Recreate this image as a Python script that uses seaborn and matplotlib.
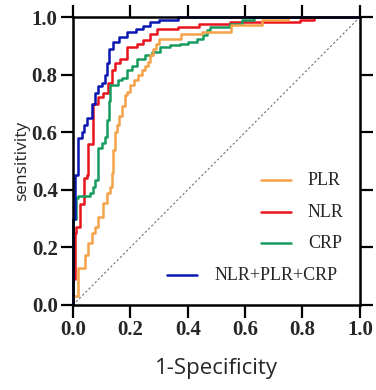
import numpy as np
import pandas as pd
import seaborn as sns
import matplotlib.pyplot as plt
from matplotlib.lines import Line2D

# ROC curve corners (fpr, tpr): top of each vertical run, drawn with steps-post
plr_fpr = [0.0, 0.0, 0.017, 0.042, 0.052, 0.066, 0.077, 0.087, 0.105, 0.118, 0.129, 0.136, 0.14, 0.146,
           0.153, 0.16, 0.17, 0.18, 0.19, 0.20, 0.213, 0.226, 0.24, 0.25, 0.26, 0.27, 0.28, 0.29, 0.30,
           0.375, 0.45, 0.55, 0.66, 0.75, 1.0]
plr_tpr = [0.0, 0.03, 0.128, 0.174, 0.215, 0.25, 0.27, 0.305, 0.354, 0.389, 0.41, 0.458, 0.538, 0.60,
           0.625, 0.655, 0.69, 0.73, 0.74, 0.764, 0.78, 0.80, 0.815, 0.83, 0.845, 0.868, 0.889, 0.906, 0.924,
           0.94, 0.948, 0.972, 0.99, 1.0, 1.0]

nlr_fpr = [0.0, 0.0, 0.007, 0.012, 0.024, 0.04, 0.05, 0.052, 0.07, 0.087, 0.105, 0.122, 0.136, 0.146,
           0.164, 0.188, 0.223, 0.244, 0.268, 0.293, 0.366, 0.44, 0.547, 0.79, 0.84, 1.0]
nlr_tpr = [0.0, 0.09, 0.25, 0.27, 0.35, 0.44, 0.45, 0.56, 0.70, 0.722, 0.736, 0.77, 0.816, 0.84,
           0.854, 0.896, 0.906, 0.92, 0.941, 0.958, 0.965, 0.976, 0.983, 0.99, 1.0, 1.0]

crp_fpr = [0.0, 0.0, 0.01, 0.017, 0.06, 0.07, 0.077, 0.087, 0.10, 0.111, 0.118, 0.125, 0.129, 0.157,
           0.171, 0.188, 0.206, 0.223, 0.25, 0.275, 0.303, 0.338, 0.373, 0.40, 0.432, 0.453, 0.467,
           0.477, 0.547, 0.59, 0.63, 1.0]
crp_tpr = [0.0, 0.30, 0.37, 0.38, 0.39, 0.41, 0.434, 0.545, 0.5625, 0.583, 0.642, 0.71, 0.764, 0.78,
           0.79, 0.816, 0.83, 0.854, 0.868, 0.878, 0.896, 0.903, 0.906, 0.913, 0.924, 0.938, 0.955,
           0.965, 0.976, 0.99, 1.0, 1.0]

comb_fpr = [0.0, 0.0, 0.007, 0.017, 0.03, 0.04, 0.05, 0.065, 0.077, 0.087, 0.10, 0.11, 0.12, 0.125,
            0.14, 0.16, 0.19, 0.22, 0.245, 0.27, 0.30, 0.365, 1.0]
comb_tpr = [0.0, 0.30, 0.45, 0.58, 0.60, 0.625, 0.65, 0.70, 0.735, 0.76, 0.77, 0.80, 0.84, 0.89,
            0.913, 0.93, 0.948, 0.958, 0.97, 0.983, 0.99, 1.0, 1.0]

labels = ['PLR', 'NLR', 'CRP', 'NLR+PLR+CRP']
colors = {'PLR': '#F5A249', 'NLR': '#E8141E', 'CRP': '#169C5F', 'NLR+PLR+CRP': '#0A17B0'}

frames = []
for name, fx, fy in [('NLR', nlr_fpr, nlr_tpr), ('CRP', crp_fpr, crp_tpr),
                     ('PLR', plr_fpr, plr_tpr), ('NLR+PLR+CRP', comb_fpr, comb_tpr)]:
    frames.append(pd.DataFrame({'fpr': fx, 'tpr': fy, 'marker': name}))
df = pd.concat(frames, ignore_index=True)

sns.set_style('ticks')
plt.rcParams['font.family'] = ['Liberation Serif', 'DejaVu Serif']

fig = plt.figure(figsize=(3.76, 3.90), dpi=100)
ax = fig.add_axes([0.194, 0.218, 0.763, 0.738])

ax.plot([0, 1], [0, 1], ls=(0, (2, 2)), color='#707070', lw=0.8)

sns.lineplot(data=df, x='fpr', y='tpr', hue='marker', palette=colors,
             hue_order=['NLR', 'CRP', 'PLR', 'NLR+PLR+CRP'],
             estimator=None, sort=False, drawstyle='steps-post',
             lw=1.8, legend=False, ax=ax)
for ln in ax.lines:
    ln.set_clip_on(False)

ax.set_xlim(0, 1)
ax.set_ylim(0, 1)
ticks = [0.0, 0.2, 0.4, 0.6, 0.8, 1.0]
ax.set_xticks(ticks)
ax.set_yticks(ticks)
ax.set_xticklabels([f'{t:.1f}' for t in ticks], fontsize=15, fontweight='bold')
ax.set_yticklabels([f'{t:.1f}' for t in ticks], fontsize=15, fontweight='bold')
ax.tick_params(top=True, right=True, labeltop=False, labelright=False,
               direction='out', length=9, width=1.6, pad=2, color='black')
for sp in ax.spines.values():
    sp.set_linewidth(1.8)
    sp.set_color('black')

ax.set_xlabel('1-Specificity', fontsize=16, family='Open Sans', labelpad=13)
ax.set_ylabel('sensitivity', fontsize=12.5, family='Open Sans', labelpad=1)

# manual legend, laid out like the original
leg_y = [0.434, 0.323, 0.215, 0.104]
leg_x0 = [0.655, 0.655, 0.655, 0.328]
leg_tx = [0.819, 0.819, 0.819, 0.495]
for name, yy, x0, tx in zip(labels, leg_y, leg_x0, leg_tx):
    ax.add_line(Line2D([x0, x0 + 0.105], [yy, yy], color=colors[name], lw=1.8,
                       transform=ax.transAxes))
    ax.text(tx, yy, name, transform=ax.transAxes, fontsize=13, va='center', ha='left')

fig.savefig('out.png', dpi=100)
